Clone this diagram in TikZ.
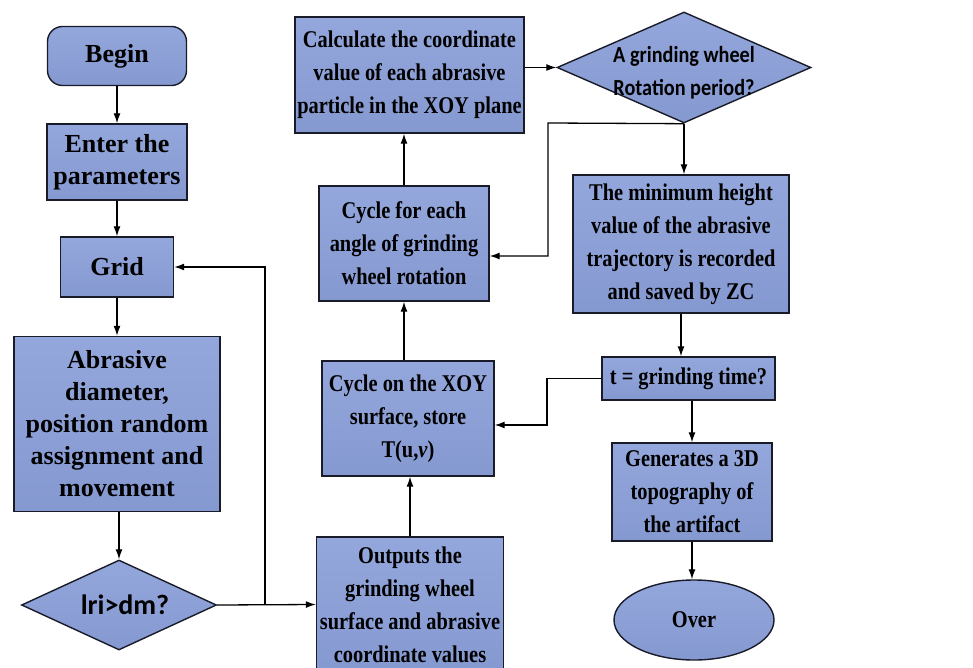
\documentclass[tikz,border=0pt]{standalone}
\usepackage{fontspec}
\setmainfont{Liberation Serif}
\newfontfamily\narrowfont[FakeStretch=0.85]{Liberation Serif}
\newfontfamily\labelfont{Carlito}
\newfontfamily\narrowlabelfont[FakeStretch=0.88]{Carlito}
\usetikzlibrary{shapes.geometric,arrows.meta}
\definecolor{boxtop}{RGB}{148,167,220}
\definecolor{boxbot}{RGB}{133,153,209}
\definecolor{boxline}{RGB}{25,28,40}
\tikzset{
  box/.style={draw=boxline, line width=1.4pt, top color=boxtop, bottom color=boxbot,
    align=center, inner sep=0pt, font=\bfseries\fontsize{26}{32}\selectfont},
  narrowbox/.style={box, font=\narrowfont\bfseries\fontsize{24}{33}\selectfont},
  startbox/.style={box, rounded corners=15pt},
  endbox/.style={narrowbox, ellipse},
  choice/.style={box, diamond, font=\labelfont\bfseries\fontsize{28}{30}\selectfont},
  flow/.style={line width=1.3pt, -{Latex[length=10pt,width=7pt]}}
}
\begin{document}
\begin{tikzpicture}[x=1pt,y=-1pt]
    \fill[white] (0,0) rectangle (973,668);
    \useasboundingbox (0,0) rectangle (973,668);
    % left column
    \node[startbox, minimum width=139pt, minimum height=59pt] (begin) at (117,56) {Begin};
    \node[box, minimum width=140pt, minimum height=76pt] (enter) at (117,162) {Enter the\\parameters};
    \node[box, minimum width=113pt, minimum height=60pt] (grid) at (117,267) {Grid};
    \node[box, minimum width=206pt, minimum height=175pt] (abrasive) at (117,424)
        {Abrasive\\diameter,\\position random\\assignment and\\movement};
    \node[choice, aspect=2.17, minimum width=195pt, minimum height=90pt] (check) at (119,605)
        {\hspace*{12pt}lri>dm?};
    % middle column
    \node[narrowbox, minimum width=187pt, minimum height=135pt] (outputs) at (410,604.5)
        {Outputs the\\grinding wheel\\surface and abrasive\\coordinate values};
    \node[narrowbox, minimum width=172pt, minimum height=115pt] (xoy) at (408,418.5)
        {Cycle on the XOY\\surface, store\\T(u,\textit{v})};
    \node[narrowbox, minimum width=170pt, minimum height=115pt] (angle) at (404,243.5)
        {Cycle for each\\angle of grinding\\wheel rotation};
    \node[narrowbox, minimum width=229pt, minimum height=116pt] (calc) at (409.5,75)
        {Calculate the coordinate\\value of each abrasive\\particle in the XOY plane};
    % right column
    \node[choice, aspect=2.3, minimum width=254pt, minimum height=111pt,
          font=\narrowlabelfont\bfseries\fontsize{23}{33}\selectfont] (period) at (684,67.5)
        {\raisebox{-11pt}[0pt][0pt]{\begin{tabular}{@{}c@{}}A grinding wheel\\Rotation period?\end{tabular}}};
    \node[narrowbox, minimum width=216pt, minimum height=138pt] (minh) at (681,244)
        {The minimum height\\value of the abrasive\\trajectory is recorded\\and saved by ZC};
    \node[narrowbox, minimum width=173pt, minimum height=43pt] (ttime) at (688.5,378.5) {t = grinding time?};
    \node[narrowbox, minimum width=160pt, minimum height=98pt] (topo) at (692,492)
        {Generates a 3D\\topography of\\the artifact};
    \node[endbox, minimum width=160pt, minimum height=80pt] (over) at (694,620) {Over};
    \coordinate (split) at (265,605);
    \coordinate (turn1) at (548,123);
    \coordinate (turn2) at (547,378.5);
    % connectors
    \draw[flow] (begin) -- (enter);
    \draw[flow] (enter) -- (grid);
    \draw[flow] (grid) -- (abrasive);
    \draw[flow] (check.north |- abrasive.south) -- (check.north);
    \draw[flow] (check.east) -- (outputs.west);
    \draw[flow] (split) |- (grid.east);
    \draw[flow] (outputs.north) -- (outputs.north |- xoy.south);
    \draw[flow] (angle.south |- xoy.north) -- (angle.south);
    \draw[flow] (angle.north) -- (angle.north |- calc.south);
    \draw[flow] (calc.east |- period.west) -- (period.west);
    \draw[flow] (period.south) -- (period.south |- minh.north);
    \draw[flow] (period.south) -- (turn1) |- ([yshift=-12.5pt]angle.east);
    \draw[flow] (minh.south) -- (minh.south |- ttime.north);
    \draw[flow] (ttime.west) -- (turn2) |- ([yshift=-6.5pt]xoy.east);
    \draw[flow] (topo.north |- ttime.south) -- (topo.north);
    \draw[flow] (topo.south) -- (topo.south |- over.north);
\end{tikzpicture}
\end{document}
